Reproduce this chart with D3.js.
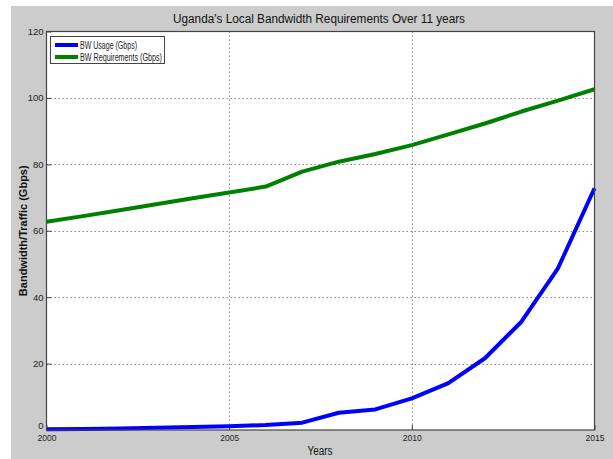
<!DOCTYPE html>
<html><head><meta charset="utf-8">
<script src="https://cdn.jsdelivr.net/npm/d3@7"></script>
<style>body{margin:0;background:#fff}svg{display:block}</style>
</head><body><svg id="c" width="613" height="459"></svg>
<script>
const years = [2000,2001,2002,2003,2004,2005,2006,2007,2008,2009,2010,2011,2012,2013,2014,2015];
const bwUsage = [0.2,0.3,0.45,0.65,0.9,1.15,1.5,2.2,5.2,6.2,9.5,14.1,21.6,32.6,48.7,72.8];
const bwRequirements = [62.7,64.4,66.2,68.0,69.8,71.5,73.3,77.8,80.8,83.1,85.8,89.0,92.3,95.9,99.2,102.6];
const xTicks = [2000,2005,2010,2015];
const yTicks = [0,20,40,60,80,100,120];
const seriesNames = ["BW Usage (Gbps)","BW Requirements (Gbps)"];
const colors = ["#0000ff","#008000"];
const titleText = "Uganda's Local Bandwidth Requirements Over 11 years";

const svg = d3.select("#c");
const font = "'Liberation Sans Narrow','Arial Narrow','Liberation Sans',sans-serif";
svg.append("rect").attr("x",11).attr("y",6).attr("width",602).attr("height",453).attr("fill","#cccccc");
const L=46.5,R=594.5,T=31.5,B=430;
const x=d3.scaleLinear().domain([2000,2015]).range([L,R]);
const y=d3.scaleLinear().domain([0,120]).range([B,T]);
svg.append("rect").attr("x",L).attr("y",T).attr("width",R-L).attr("height",B-T).attr("fill","#fff");
// grid
const g=svg.append("g");
g.selectAll(".gx").data(xTicks.slice(1,-1)).join("line").attr("x1",d=>Math.round(x(d))+0.5).attr("x2",d=>Math.round(x(d))+0.5)
 .attr("y1",T).attr("y2",B).attr("stroke","#888").attr("stroke-dasharray","1.5,2.5");
g.selectAll(".gy").data(yTicks.slice(1,-1)).join("line").attr("y1",d=>Math.round(y(d))+0.5).attr("y2",d=>Math.round(y(d))+0.5)
 .attr("x1",L).attr("x2",R).attr("stroke","#888").attr("stroke-dasharray","1.5,2.5");
// axes
const xa=svg.append("g").attr("transform",`translate(0,${B})`).call(d3.axisBottom(x).tickValues(xTicks).tickFormat(d3.format("d")).tickSize(-5).tickPadding(4));
const ya=svg.append("g").attr("transform",`translate(${L},0)`).call(d3.axisLeft(y).tickValues(yTicks).tickSize(-5).tickPadding(3));
[xa,ya].forEach(a=>{a.select(".domain").remove();a.selectAll("line").attr("stroke","#444");
 a.selectAll("text").attr("font-family",font).attr("font-size",9.5).attr("fill","#222");});
ya.selectAll("text").filter(d=>d===0).attr("dy","-0.2em");
xa.selectAll("text").attr("textLength",19).attr("lengthAdjust","spacingAndGlyphs");
// lines
const line=d3.line().x((d,i)=>x(years[i])).y(d=>y(d));
[bwUsage,bwRequirements].forEach((s,i)=>{
 svg.append("path").datum(s).attr("d",line).attr("fill","none").attr("stroke",colors[i]).attr("stroke-width",4).attr("stroke-linejoin","round");
});
// frame
svg.append("rect").attr("x",L).attr("y",T).attr("width",R-L).attr("height",B-T).attr("fill","none").attr("stroke","#444").attr("stroke-width",1.2);
// legend
const lg=svg.append("g");
lg.append("rect").attr("x",50.5).attr("y",36.5).attr("width",114).attr("height",27).attr("fill","#fff").attr("stroke","#444");
const legLens=[57,82];
seriesNames.forEach((n,i)=>{
 const yy=45+i*12;
 lg.append("line").attr("x1",55).attr("x2",78).attr("y1",yy).attr("y2",yy).attr("stroke",colors[i]).attr("stroke-width",4);
 lg.append("text").attr("x",80).attr("y",yy+3.5).text(n).attr("font-family",font).attr("font-size",10).attr("fill","#222")
   .attr("textLength",legLens[i]).attr("lengthAdjust","spacingAndGlyphs");
});
// title & labels
svg.append("text").attr("x",319).attr("y",23).attr("text-anchor","middle").text(titleText).attr("font-family",font).attr("font-size",12).attr("fill","#111")
 .attr("textLength",292).attr("lengthAdjust","spacingAndGlyphs");
svg.append("text").attr("x",320).attr("y",455).attr("text-anchor","middle").text("Years").attr("font-family",font).attr("font-size",12).attr("fill","#111")
 .attr("textLength",25).attr("lengthAdjust","spacingAndGlyphs");
svg.append("text").attr("transform",`translate(27,${(T+B)/2}) rotate(-90)`).attr("text-anchor","middle").text("Bandwidth/Traffic (Gbps)")
 .attr("font-family","'Liberation Sans',Arial,sans-serif").attr("font-weight","bold").attr("font-size",11).attr("fill","#111");
</script></body></html>
